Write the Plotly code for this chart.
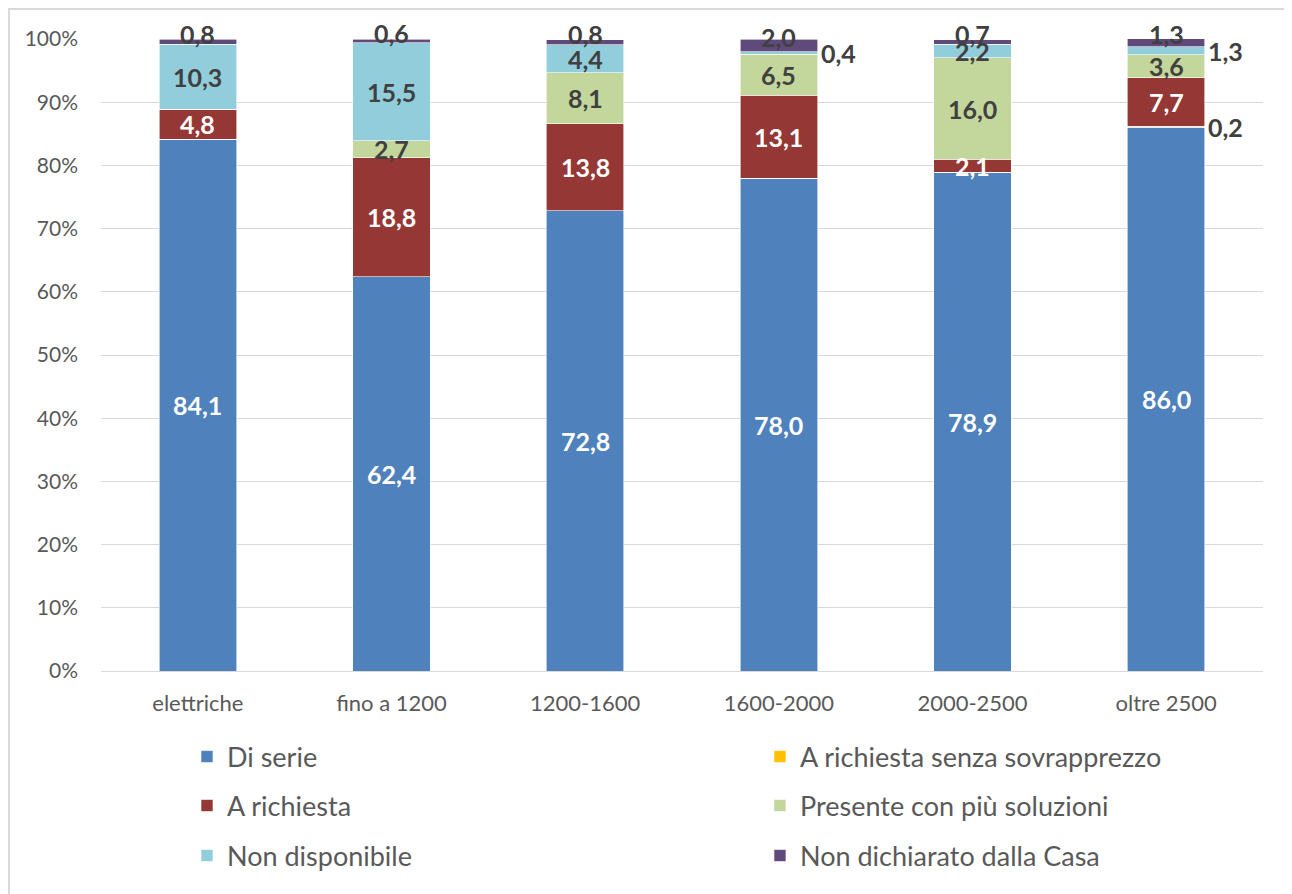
import plotly.graph_objects as go

categories = ["elettriche", "fino a 1200", "1200-1600", "1600-2000", "2000-2500", "oltre 2500"]

di_serie = [84.1, 62.4, 72.8, 78.0, 78.9, 86.0]
senza_sovrapprezzo = [0, 0, 0, 0, 0, 0.2]
a_richiesta = [4.8, 18.8, 13.8, 13.1, 2.1, 7.7]
piu_soluzioni = [0, 2.7, 8.1, 6.5, 16.0, 3.6]
non_disponibile = [10.3, 15.5, 4.4, 0.4, 2.2, 1.3]
non_dichiarato = [0.8, 0.6, 0.8, 2.0, 0.7, 1.3]

series_names = ["Di serie", "A richiesta senza sovrapprezzo", "A richiesta",
                "Presente con più soluzioni", "Non disponibile", "Non dichiarato dalla Casa"]
series_values = [di_serie, senza_sovrapprezzo, a_richiesta, piu_soluzioni, non_disponibile, non_dichiarato]
colors = ["#4F81BD", "#FFC000", "#953735", "#C3D69B", "#92CDDC", "#604A7B"]
label_colors = ["white", "#404040", "white", "#404040", "#404040", "#404040"]

# legend grid: (column x, row y) in paper coordinates
legend_ids = ["legend", "legend2", "legend3", "legend4", "legend5", "legend6"]
legend_cols = [0.0740, 0.5671]
legend_rows = [-0.1361, -0.2136, -0.2927]

# labels drawn to the right of the bar (series index, category index)
outside_right = {(4, 3), (1, 5), (4, 5)}

FONT = "Lato"
BAR_WIDTH = 0.4

fig = go.Figure()
for name, vals, col, lg in zip(series_names, series_values, colors, legend_ids):
    fig.add_trace(go.Bar(
        name=name, x=categories, y=vals, marker=dict(color=col, line=dict(color="white", width=0.6)),
        width=BAR_WIDTH, legend=lg, showlegend=True, hoverinfo="skip"))

annotations = []
base = [0.0] * len(categories)
for s, vals in enumerate(series_values):
    for i, v in enumerate(vals):
        if v > 0:
            mid = base[i] + v / 2
            txt = f"{v:.1f}".replace(".", ",")
            if (s, i) in outside_right:
                annotations.append(dict(x=i + BAR_WIDTH / 2, y=mid, xref="x", yref="y", text=txt,
                                        showarrow=False, xanchor="left", xshift=1,
                                        font=dict(family=FONT, size=25, color="#404040", weight="bold")))
            else:
                ysh = 8 if s == len(series_values) - 1 else 0
                annotations.append(dict(x=i, y=mid, xref="x", yref="y", text=txt, showarrow=False,
                                        yshift=ysh,
                                        font=dict(family=FONT, size=25, color=label_colors[s], weight="bold")))
        base[i] += v

legend_layout = {}
for k, lid in enumerate(legend_ids):
    row, colk = divmod(k, 2)
    legend_layout[lid] = dict(
        x=legend_cols[colk], y=legend_rows[row], xref="paper", yref="paper",
        xanchor="left", yanchor="middle", orientation="v", visible=True,
        font=dict(family=FONT, size=27, color="#595959"), bgcolor="rgba(0,0,0,0)",
        itemclick=False, itemdoubleclick=False)

fig.update_layout(
    width=1284, height=886,
    margin=dict(l=93, r=29, t=31, b=223),
    plot_bgcolor="white", paper_bgcolor="white",
    showlegend=True,
    barmode="stack", bargap=0.6,
    separators=",.",
    font=dict(family=FONT, color="#595959"),
    xaxis=dict(showgrid=False, showline=False, ticks="", ticklabelstandoff=17,
               tickfont=dict(family=FONT, size=22, color="#595959")),
    yaxis=dict(range=[0, 100], dtick=10, ticksuffix="%", showgrid=True, gridcolor="#D9D9D9", gridwidth=1.3,
               zeroline=True, zerolinecolor="#D9D9D9", zerolinewidth=1.3, showline=False,
               tickfont=dict(family=FONT, size=21, color="#595959"), ticklabelstandoff=22),
    annotations=annotations,
    shapes=[dict(type="rect", xref="paper", yref="paper", x0=-0.0792, x1=1.0232, y0=-0.4, y1=1.0475,
                 line=dict(color="#D9D9D9", width=2), layer="below")],
    **legend_layout,
)

fig.write_html("out.html")
